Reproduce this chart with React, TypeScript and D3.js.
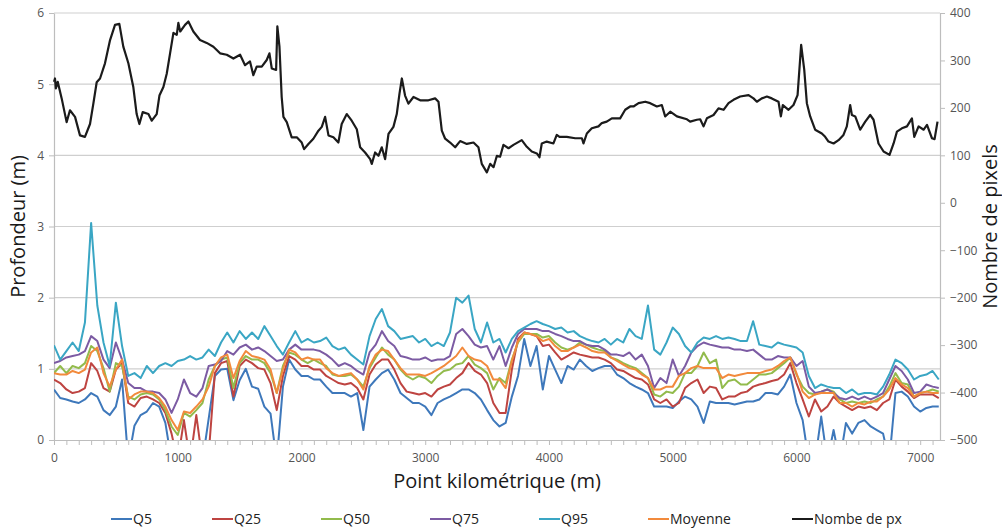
import React, { useEffect, useRef } from 'react';
import * as d3 from 'd3';

// point kilometrique (m) for the depth quantiles, one sample every 50 m
const pk = d3.range(0, 7151, 50);

const q5 = [
  0.71,0.59,0.57,0.54,0.52,0.57,0.66,0.61,0.42,0.35,0.47,0.85,-0.3,0.2,0.35,0.40,0.52,0.47,0.24,-0.3,
  -0.3,-0.3,-0.3,-0.3,-0.3,0.3,0.90,0.99,1.00,0.56,0.84,1.00,0.75,0.72,0.47,0.37,-0.3,0.75,1.13,0.99,
  0.90,0.90,0.85,0.85,0.75,0.66,0.66,0.66,0.61,0.66,0.14,0.75,0.85,0.94,0.99,0.85,0.66,0.59,0.52,0.52,
  0.47,0.35,0.52,0.57,0.61,0.66,0.71,0.71,0.66,0.57,0.42,0.28,0.19,0.24,0.61,0.90,1.42,1.04,1.32,0.71,
  1.18,0.99,0.80,1.04,0.99,1.13,1.04,0.97,1.01,1.04,1.04,0.92,0.87,0.80,0.75,0.71,0.66,0.47,0.47,0.47,
  0.45,0.54,0.61,0.57,0.47,0.24,0.54,0.52,0.52,0.52,0.50,0.52,0.54,0.54,0.57,0.66,0.66,0.64,0.75,0.92,
  0.52,0.28,-0.3,-0.3,0.33,-0.3,0.14,-0.3,0.24,0.09,0.24,0.28,0.19,0.14,0.09,-0.3,0.66,0.68,0.61,0.47,
  0.40,0.45,0.47,0.47
];
const q25 = [
  0.85,0.80,0.71,0.66,0.68,0.73,1.08,0.97,0.73,0.68,0.99,1.08,0.52,0.47,0.59,0.61,0.57,0.52,0.38,0.09,
  -0.3,0.28,-0.3,0.35,-0.3,-0.2,0.94,1.08,1.11,0.61,1.04,1.13,1.08,1.01,0.99,0.80,0.42,0.90,1.18,1.13,
  1.04,1.04,0.99,0.99,0.90,0.85,0.80,0.78,0.80,0.73,0.57,0.92,1.06,1.13,1.13,0.99,0.80,0.68,0.66,0.64,
  0.66,0.61,0.71,0.75,0.78,0.87,0.94,1.08,0.97,0.92,0.80,0.52,0.38,0.38,0.99,1.42,1.51,1.49,1.46,1.32,
  1.34,1.23,1.13,1.18,1.23,1.20,1.18,1.16,1.16,1.13,1.08,0.99,0.97,0.92,0.87,0.85,0.78,0.57,0.52,0.57,
  0.47,0.52,0.73,0.80,0.85,0.66,0.75,0.73,0.57,0.61,0.61,0.66,0.68,0.75,0.78,0.80,0.83,0.85,0.92,1.08,
  0.80,0.57,0.33,0.57,0.40,0.47,0.61,0.52,0.47,0.42,0.47,0.45,0.47,0.42,0.52,0.57,0.85,0.75,0.68,0.59,
  0.64,0.64,0.64,0.59
];
const q50 = [
  0.94,1.04,0.94,1.04,1.01,1.08,1.32,1.25,1.01,0.68,1.08,1.04,0.61,0.57,0.64,0.66,0.64,0.57,0.42,0.19,
  0.07,0.38,0.33,0.42,0.52,0.85,1.04,1.13,1.16,0.73,1.08,1.18,1.13,1.13,1.08,0.94,0.66,1.04,1.23,1.20,
  1.13,1.08,1.13,1.08,1.04,0.92,0.90,0.90,0.92,0.85,0.75,1.01,1.16,1.30,1.20,1.13,0.99,0.90,0.85,0.90,
  0.87,0.80,0.90,0.97,0.99,1.06,1.08,1.18,1.06,1.01,0.94,0.71,0.87,0.80,1.13,1.37,1.49,1.49,1.49,1.44,
  1.46,1.37,1.30,1.27,1.30,1.37,1.34,1.30,1.27,1.25,1.16,1.13,1.08,1.04,1.01,0.94,0.87,0.64,0.61,0.68,
  0.66,0.75,0.94,0.94,1.04,1.23,1.08,1.13,0.73,0.83,0.85,0.78,0.78,0.85,0.92,0.92,0.94,1.01,1.08,1.16,
  0.92,0.75,0.66,0.64,0.68,0.71,0.68,0.57,0.52,0.54,0.52,0.54,0.52,0.57,0.61,0.75,0.94,0.80,0.78,0.61,
  0.66,0.68,0.71,0.68
];
const q75 = [
  1.08,1.11,1.16,1.18,1.20,1.25,1.46,1.39,1.13,1.01,1.37,1.13,0.80,0.73,0.73,0.68,0.68,0.66,0.57,0.38,
  0.57,0.85,0.66,0.61,0.73,1.04,1.06,1.11,1.25,1.20,1.30,1.34,1.27,1.30,1.25,1.18,1.11,1.13,1.27,1.34,
  1.27,1.27,1.27,1.25,1.20,1.13,1.04,1.08,1.04,0.97,0.92,1.23,1.34,1.53,1.39,1.32,1.18,1.16,1.13,1.13,
  1.16,1.11,1.13,1.13,1.18,1.49,1.56,1.46,1.34,1.30,1.32,1.13,1.32,1.04,1.30,1.49,1.56,1.56,1.56,1.53,
  1.53,1.49,1.46,1.42,1.39,1.39,1.34,1.32,1.32,1.27,1.20,1.20,1.18,1.23,1.13,1.20,1.04,0.73,0.87,0.80,
  1.13,0.90,1.04,1.23,1.32,1.37,1.34,1.32,1.30,1.30,1.27,1.27,1.25,1.27,1.20,1.13,1.13,1.18,1.16,1.16,
  1.04,1.11,0.75,0.66,0.68,0.71,0.66,0.59,0.57,0.61,0.57,0.61,0.57,0.61,0.66,0.85,1.04,0.97,0.85,0.66,
  0.68,0.78,0.75,0.73
];
const q95 = [
  1.33,1.13,1.25,1.37,1.25,1.65,3.05,1.89,1.37,1.04,1.93,1.32,0.90,0.94,0.87,1.04,0.94,1.04,1.08,1.04,
  1.11,1.13,1.18,1.13,1.16,1.27,1.18,1.37,1.51,1.37,1.53,1.42,1.51,1.42,1.60,1.46,1.32,1.20,1.37,1.53,
  1.37,1.42,1.37,1.39,1.44,1.32,1.27,1.30,1.20,1.13,1.06,1.46,1.70,1.84,1.60,1.53,1.42,1.44,1.46,1.37,
  1.42,1.32,1.37,1.32,1.51,2.00,1.93,2.03,1.56,1.37,1.65,1.37,1.42,1.23,1.42,1.53,1.58,1.63,1.67,1.63,
  1.60,1.56,1.58,1.51,1.53,1.46,1.42,1.39,1.37,1.42,1.34,1.42,1.37,1.56,1.46,1.42,1.89,1.27,1.20,1.37,
  1.58,1.49,1.32,1.23,1.37,1.44,1.42,1.46,1.42,1.44,1.42,1.39,1.39,1.67,1.34,1.32,1.30,1.37,1.34,1.32,
  1.30,1.23,0.90,0.73,0.78,0.75,0.73,0.73,0.66,0.71,0.64,0.66,0.66,0.64,0.75,0.92,1.13,1.08,0.99,0.85,
  0.90,0.92,0.97,0.85
];
const moyenne = [
  0.94,0.92,0.92,0.97,0.94,0.99,1.23,1.30,0.94,0.75,0.99,1.13,0.57,0.64,0.68,0.68,0.66,0.59,0.47,0.28,
  0.14,0.40,0.38,0.47,0.57,0.75,1.04,1.16,1.20,0.87,1.11,1.25,1.18,1.16,1.13,0.99,0.66,0.99,1.27,1.23,
  1.13,1.16,1.13,1.13,1.01,0.94,0.90,0.92,0.94,0.85,0.71,1.04,1.20,1.27,1.25,1.13,1.01,0.92,0.92,0.92,
  0.90,0.94,0.99,1.04,1.11,1.18,1.30,1.18,1.13,1.11,1.04,0.85,0.85,0.73,1.11,1.39,1.51,1.49,1.46,1.39,
  1.42,1.32,1.25,1.25,1.30,1.34,1.30,1.25,1.23,1.23,1.16,1.11,1.06,1.01,0.99,0.92,0.87,0.71,0.71,0.75,
  0.75,0.90,0.94,1.01,1.04,1.01,1.01,1.01,0.87,0.92,0.90,0.92,0.94,0.94,0.94,0.97,0.99,1.04,1.11,1.16,
  0.94,0.68,0.59,0.64,0.66,0.66,0.66,0.52,0.52,0.47,0.52,0.50,0.54,0.54,0.61,0.71,0.87,0.78,0.73,0.61,
  0.66,0.68,0.66,0.66
];

// nombre de pixels (right axis), read at irregular positions
const pkPx = [
  0,8,15,30,62,102,129,170,210,250,291,318,345,372,412,453,493,528,560,601,641,668,690,717,763,790,830,852,884,911,
  938,965,992,1005,1020,1059,1086,1126,1180,1234,1288,1342,1396,1450,1504,1544,1584,1611,1638,1679,1719,1741,1760,1795,1805,1822,1840,1854,1881,1921,
  1962,2002,2021,2056,2096,2137,2164,2191,2218,2258,2298,2325,2366,2406,2447,2474,2514,2555,2568,2595,2622,2649,2676,2703,2743,2770,2792,2811,2837,2864,
  2905,2959,3026,3080,3107,3134,3161,3201,3242,3282,3336,3390,3430,3457,3498,3525,3552,3579,3605,3632,3673,3713,3780,3821,3861,3902,3923,3942,3982,4036,
  4063,4085,4144,4212,4266,4279,4306,4346,4400,4427,4467,4508,4575,4616,4656,4683,4724,4778,4818,4872,4912,4939,4980,5034,5115,5141,5195,5222,5249,5276,
  5330,5370,5411,5451,5491,5545,5613,5653,5680,5720,5761,5801,5855,5874,5890,5936,5976,6009,6038,6063,6084,6111,6151,6205,6232,6259,6300,6340,6380,6407,
  6434,6448,6475,6515,6556,6596,6623,6663,6704,6752,6785,6812,6852,6893,6933,6952,6987,7028,7055,7095,7116,7140
];
const nbPx = [
  255,262,241,255,220,170,195,181,142,139,166,209,254,262,294,343,375,377,329,294,244,187,166,191,187,173,187,226,244,272,
  315,358,354,379,361,375,382,361,343,337,329,315,312,304,312,290,298,269,287,287,301,315,283,280,372,329,223,181,170,138,
  138,127,113,124,135,152,160,181,142,138,127,166,187,173,155,117,106,92,82,106,99,117,92,145,160,187,230,262,226,209,
  223,216,216,220,213,152,135,127,117,130,124,127,117,82,64,82,75,99,97,122,115,122,132,118,108,104,96,125,129,125,
  143,139,139,136,136,125,146,157,161,168,171,178,178,196,203,203,210,213,210,203,206,182,192,182,176,171,175,176,161,178,
  185,199,196,210,217,224,227,220,213,220,224,220,213,182,206,196,206,227,333,280,210,182,154,146,139,129,125,132,143,161,
  206,185,182,154,171,185,175,125,108,101,125,150,157,161,178,139,161,154,164,136,134,171
];

const seriesNames = ['Q5', 'Q25', 'Q50', 'Q75', 'Q95', 'Moyenne', 'Nombe de px'];
const seriesColors = ['#3e78bb', '#be4441', '#92bb4c', '#7c5ba3', '#3aa6c4', '#f28a3c', '#1b1b1b'];
const depthTicks = [0, 1, 2, 3, 4, 5, 6];
const pixelTicks = [-500, -400, -300, -200, -100, 0, 100, 200, 300, 400];
const pkTicks = [0, 1000, 2000, 3000, 4000, 5000, 6000, 7000];

// where each legend entry starts (Excel spreads them by text width)
const legendX = [111, 212, 321, 430, 539, 648, 792];

export default function App() {
  const ref = useRef<SVGSVGElement>(null);

  useEffect(() => {
    const svg = d3.select(ref.current);
    svg.selectAll('*').remove();
    const marge = { left: 54, right: 940, top: 13, bottom: 440 };
    const font = "'Open Sans', 'DejaVu Sans', sans-serif";

    const x = d3.scaleLinear().domain([0, 7160]).range([marge.left, marge.right]);
    const y = d3.scaleLinear().domain([0, 6]).range([marge.bottom, marge.top]);
    const yR = d3.scaleLinear().domain([-500, 400]).range([marge.bottom, marge.top]);

    // gridlines
    svg.append('g')
      .selectAll('line')
      .data(depthTicks.slice(1))
      .enter()
      .append('line')
      .attr('x1', marge.left).attr('x2', marge.right)
      .attr('y1', d => y(d)).attr('y2', d => y(d))
      .attr('stroke', '#cfcfcf').attr('stroke-width', 1.2);

    const styleAxis = (g: any) => {
      g.select('.domain').attr('stroke', '#bdbdbd').attr('stroke-width', 1.2);
      g.selectAll('.tick line').attr('stroke', '#bdbdbd');
      g.selectAll('text').attr('fill', '#555').attr('font-size', 12).attr('font-family', font);
    };

    const minor = d3.range(0, 7160, 100);
    svg.append('g')
      .attr('transform', `translate(0,${marge.bottom})`)
      .call(d3.axisBottom(x).tickValues(minor).tickSize(5).tickSizeOuter(0)
        .tickFormat((d: any) => (pkTicks.includes(d) ? String(d) : '')))
      .call(styleAxis)
      .call((g: any) => g.selectAll('text').attr('dy', '1.15em'));

    svg.append('g')
      .attr('transform', `translate(${marge.left},0)`)
      .call(d3.axisLeft(y).tickValues(depthTicks).tickSize(5).tickSizeOuter(0).tickFormat(d3.format('d')))
      .call(styleAxis)
      .call((g: any) => g.selectAll('text').attr('x', -10));

    svg.append('g')
      .attr('transform', `translate(${marge.right},0)`)
      .call(d3.axisRight(yR).tickValues(pixelTicks).tickSize(5).tickSizeOuter(0).tickFormat(d3.format('d')))
      .call(styleAxis)
      .call((g: any) => g.selectAll('text').attr('x', 10));

    svg.append('clipPath').attr('id', 'plotClip')
      .append('rect')
      .attr('x', marge.left).attr('y', marge.top)
      .attr('width', marge.right - marge.left).attr('height', marge.bottom - marge.top);

    const line = d3.line<number>()
      .x((d, i) => x(pk[i]))
      .y(d => y(d));

    const depthSeries = [q5, q25, q50, q75, q95, moyenne];
    svg.append('g')
      .attr('clip-path', 'url(#plotClip)')
      .selectAll('path')
      .data(depthSeries)
      .enter()
      .append('path')
      .attr('d', d => line(d))
      .attr('fill', 'none')
      .attr('stroke', (d, i) => seriesColors[i])
      .attr('stroke-width', 2)
      .attr('stroke-linejoin', 'round');

    const pxLine = d3.line<number>()
      .x((d, i) => x(pkPx[i]))
      .y(d => yR(d));
    svg.append('path')
      .attr('d', pxLine(nbPx))
      .attr('fill', 'none')
      .attr('stroke', seriesColors[6])
      .attr('stroke-width', 2.2)
      .attr('stroke-linejoin', 'round');

    // axis titles
    svg.append('text')
      .attr('transform', `translate(25,${(y(2) + y(4)) / 2}) rotate(-90)`)
      .attr('text-anchor', 'middle')
      .attr('font-family', font).attr('font-size', 20)
      .attr('fill', '#1a1a1a')
      .text('Profondeur (m)');
    svg.append('text')
      .attr('transform', `translate(997,${(y(2) + y(4)) / 2}) rotate(-90)`)
      .attr('text-anchor', 'middle')
      .attr('font-family', font).attr('font-size', 20)
      .attr('fill', '#1a1a1a')
      .text('Nombre de pixels');
    svg.append('text')
      .attr('x', 497).attr('y', 488)
      .attr('text-anchor', 'middle')
      .attr('font-family', font).attr('font-size', 20)
      .attr('fill', '#1a1a1a')
      .text('Point kilométrique (m)');

    // legend
    const legend = svg.append('g').selectAll('g')
      .data(seriesNames)
      .enter()
      .append('g')
      .attr('transform', (d, i) => `translate(${legendX[i]},519)`);
    legend.append('line')
      .attr('x1', 0).attr('x2', 21)
      .attr('stroke', (d, i) => seriesColors[i])
      .attr('stroke-width', 2);
    legend.append('text')
      .attr('x', 22).attr('dy', '0.35em')
      .attr('font-family', font).attr('font-size', 14)
      .attr('fill', '#222')
      .text(d => d);
  }, []);

  return (
    <div>
      <svg ref={ref} width={1002} height={528}
        style={{ position: 'absolute', left: 0, top: 0, background: '#fff' }} />
    </div>
  );
}
